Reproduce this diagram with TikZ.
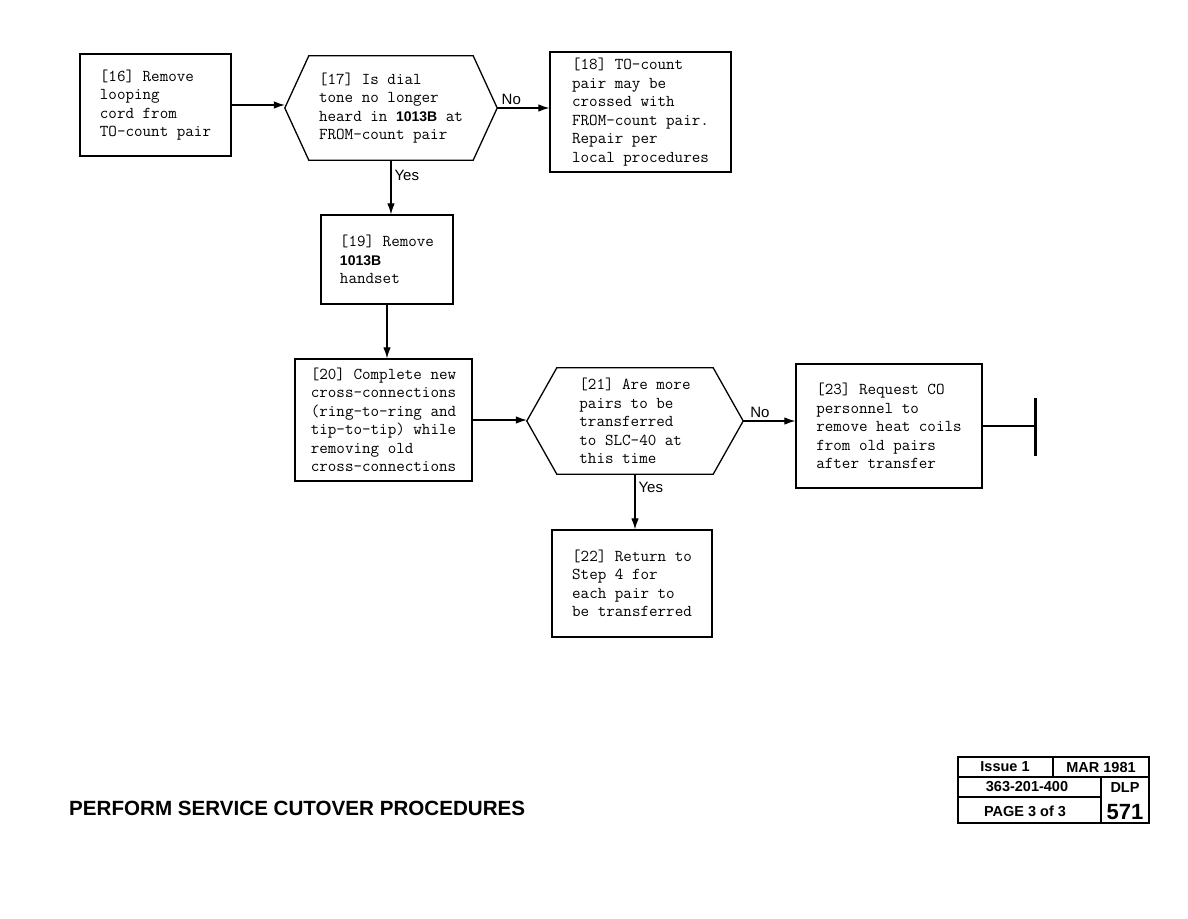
\documentclass[tikz,border=0pt]{standalone}
\usepackage{fontspec}
\usetikzlibrary{arrows.meta,calc}
\newfontfamily\headfont{Liberation Sans}
\newcommand\stepfont{\fontsize{16.6}{18.5}\selectfont\ttfamily}
\newcommand\partno[1]{{\headfont\bfseries\fontsize{14}{18.5}\selectfont #1}}
\newcommand\hexframe[2]{\draw[line width=1.3pt] (#1.west) -- ([xshift=#2]#1.north west)
  -- ([xshift=-#2]#1.north east) -- (#1.east) -- ([xshift=-#2]#1.south east)
  -- ([xshift=#2]#1.south west) -- cycle;}

\begin{document}
\begin{tikzpicture}[x=1pt,y=-1pt,
  stepbox/.style={draw,line width=1.3pt,font=\stepfont,align=left,inner sep=0pt},
  query/.style={font=\stepfont,align=left,inner sep=0pt},
  flow/.style={line width=1.1pt,-{Latex[length=11pt,width=7.5pt]}},
  answer/.style={font=\headfont\fontsize{15}{15}\selectfont,inner sep=3pt},
  infocell/.style={font=\headfont\bfseries\fontsize{14.5}{15}\selectfont,inner sep=0pt}]
\useasboundingbox (0,0) rectangle (1188,918);

\node[stepbox,minimum width=151pt,minimum height=102pt] (S16) at (155.5,105)
  {[16] Remove\\looping\\cord from\\TO-count pair};
\node[query,minimum width=212pt,minimum height=104pt] (Q17) at (391,108)
  {[17] Is dial\\tone no longer\\heard in \partno{1013B} at\\FROM-count pair};
\hexframe{Q17}{24pt}
\node[stepbox,minimum width=181pt,minimum height=120pt] (S18) at (640.5,112)
  {[18] TO-count\\pair may be\\crossed with\\FROM-count pair.\\Repair per\\local procedures};
\node[stepbox,minimum width=132pt,minimum height=89pt] (S19) at (387,259.5)
  {[19] Remove\\\partno{1013B}\\handset};
\node[stepbox,minimum width=177pt,minimum height=122pt] (S20) at (383.5,420)
  {[20] Complete new\\cross-connections\\(ring-to-ring and\\tip-to-tip) while\\removing old\\cross-connections};
\node[query,minimum width=216pt,minimum height=106pt] (Q21) at (635,421)
  {[21] Are more\\pairs to be\\transferred\\to SLC-40 at\\this time};
\hexframe{Q21}{30pt}
\node[stepbox,minimum width=186pt,minimum height=124pt] (S23) at (889,426)
  {[23] Request CO\\personnel to\\remove heat coils\\from old pairs\\after transfer};
\node[stepbox,minimum width=160pt,minimum height=107pt] (S22) at (632,583.5)
  {[22] Return to\\Step 4 for\\each pair to\\be transferred};
\coordinate (stop) at (1035,426);

\draw[flow] (S16.east) -- (S16.east -| Q17.west);
\draw[flow] (Q17.east) -- node[answer,above,pos=0.27] {No} (Q17.east -| S18.west);
\draw[flow] (Q17.south) -- node[answer,right,pos=0.28] {Yes} (Q17.south |- S19.north);
\draw[flow] (S19.south) -- (S19.south |- S20.north);
\draw[flow] (S20.east) -- (S20.east -| Q21.west);
\draw[flow] (Q21.east) -- node[answer,above,pos=0.32] {No} (Q21.east -| S23.west);
\draw[flow] (Q21.south) -- node[answer,right,pos=0.24] {Yes} (Q21.south |- S22.north);
\draw[line width=1.1pt] (S23.east) -- (stop);
\draw[line width=3pt] ([yshift=28pt]stop) -- ([yshift=-30pt]stop);

\node[font=\headfont\bfseries\fontsize{20.6}{21}\selectfont,anchor=west,inner sep=0pt] (title) at (69,808)
  {PERFORM SERVICE CUTOVER PROCEDURES};

\draw[line width=1.4pt] (958,757) rectangle (1149,823)
  (958,777) -- (1149,777) (958,797) -- (1101,797)
  (1053,757) -- (1053,777) (1101,777) -- (1101,823);
\node[infocell] (issue) at (1005,767) {Issue 1};
\node[infocell] (date) at (1101,767) {MAR 1981};
\node[infocell] (docno) at (1027,787) {363-201-400};
\node[infocell] (dlp) at (1125,788) {DLP};
\node[infocell] (page) at (1025,811) {PAGE 3 of 3};
\node[infocell,font=\headfont\bfseries\fontsize{22}{22}\selectfont] (dlpno) at (1125,812) {571};
\end{tikzpicture}
\end{document}
